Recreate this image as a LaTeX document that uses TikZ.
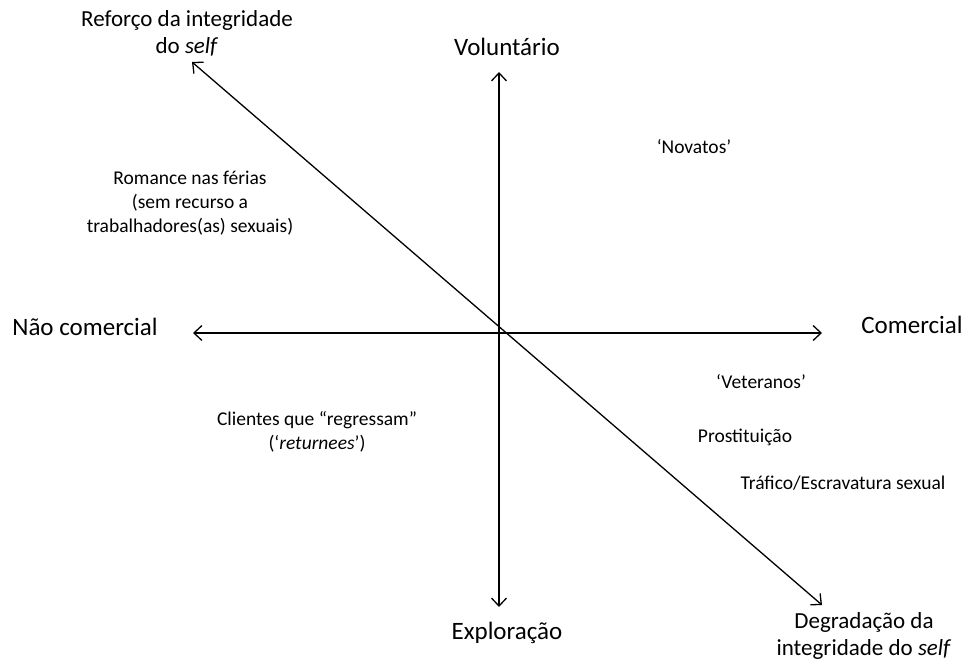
\documentclass[tikz,border=0pt]{standalone}
\usepackage{fontspec}
\setmainfont{Carlito}
\usetikzlibrary{arrows.meta}
\tikzset{
  axis/.style={line width=1.3pt, {Straight Barb[length=8pt,width=15pt]}-{Straight Barb[length=8pt,width=15pt]}},
  biglbl/.style={inner sep=0pt, font=\fontsize{25}{30}\selectfont},
  cornerlbl/.style={inner sep=0pt, align=center, font=\fontsize{23}{27}\selectfont},
  smalllbl/.style={inner sep=0pt, align=center, font=\fontsize{19.5}{24}\selectfont}
}
\begin{document}
\begin{tikzpicture}[x=1pt,y=-1pt]
\useasboundingbox (0,0) rectangle (969,668);
% axis ends
\coordinate (top) at (499,72);
\coordinate (bot) at (499,607);
\coordinate (lft) at (193,333);
\coordinate (rgt) at (822,333);
\coordinate (tl) at (192,62);
\coordinate (br) at (822,605);
\draw[axis] (bot) -- (top);
\draw[axis] (lft) -- (rgt);
\draw[axis] (tl) -- (br);
% axis labels
\node[biglbl] (vol) at (507,47) {Voluntário};
\node[biglbl] (exp) at (507,633) {Exploração};
\node[biglbl] (ncom) at (85,327) {Não comercial};
\node[biglbl] (com) at (912,325) {Comercial};
\node[cornerlbl] (ref) at (187,33) {Reforço da integridade\\do \textit{self}};
\node[cornerlbl] (deg) at (864,636) {Degradação da\\integridade do \textit{self}};
% inner labels
\node[smalllbl] (rom) at (190,203) {Romance nas férias\\(sem recurso a\\trabalhadores(as) sexuais)};
\node[smalllbl] (nov) at (694,147) {‘Novatos’};
\node[smalllbl] (vet) at (761,382) {‘Veteranos’};
\node[smalllbl] (pro) at (745,437) {Prostituição};
\node[smalllbl] (tra) at (843,483) {Tráfico/Escravatura sexual};
\node[smalllbl] (cli) at (317,432) {Clientes que “regressam”\\(‘\textit{returnees}’)};
\end{tikzpicture}
\end{document}
